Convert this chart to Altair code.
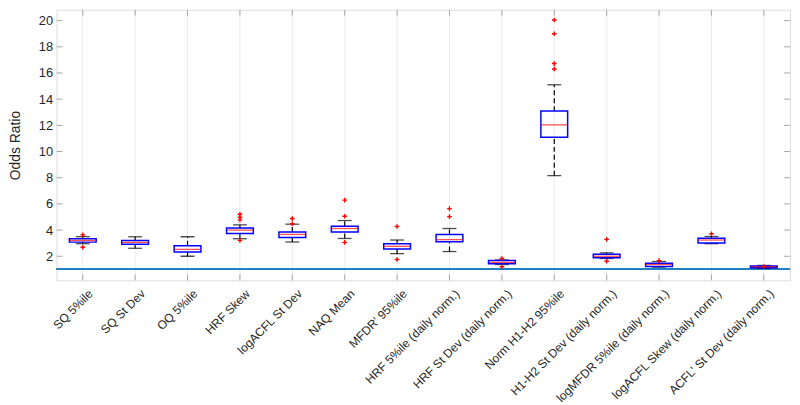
import altair as alt
import pandas as pd

categories = ["SQ 5%ile", "SQ St Dev", "OQ 5%ile", "HRF Skew", "logACFL St Dev", "NAQ Mean",
              "MFDR' 95%ile", "HRF 5%ile (daily norm.)", "HRF St Dev (daily norm.)",
              "Norm H1-H2 95%ile", "H1-H2 St Dev (daily norm.)", "logMFDR 5%ile (daily norm.)",
              "logACFL Skew (daily norm.)", "ACFL' St Dev (daily norm.)"]
q1 = [3.08, 2.91, 2.33, 3.74, 3.44, 3.85, 2.56, 3.10, 1.42, 11.09, 1.88, 1.22, 3.01, 1.12]
med = [3.21, 3.06, 2.53, 4.00, 3.67, 4.12, 2.76, 3.27, 1.53, 12.03, 2.00, 1.37, 3.24, 1.20]
q3 = [3.34, 3.21, 2.81, 4.15, 3.85, 4.30, 2.96, 3.67, 1.67, 13.09, 2.16, 1.47, 3.38, 1.26]
wlo = [2.96, 2.61, 2.00, 3.34, 3.09, 3.36, 2.20, 2.36, 1.37, 8.16, 1.83, 1.17, 2.96, 1.08]
whi = [3.50, 3.49, 3.49, 4.40, 4.45, 4.73, 3.24, 4.12, 1.72, 15.10, 2.26, 1.60, 3.51, 1.30]
outliers = [[3.63, 2.69], [], [], [5.21, 4.98, 4.78, 3.21], [4.88, 4.48], [6.29, 5.06, 3.06],
            [4.27, 1.75], [5.64, 5.03], [1.83, 1.20], [20.05, 19.0, 16.72, 16.31],
            [3.29, 1.62], [1.67], [3.72], [1.22]]
y_ticks = [2, 4, 6, 8, 10, 12, 14, 16, 18, 20]
ref_value = 1

W, H = 740, 273
FONT = "Liberation Sans"
GRAY = "#a6a6a6"

df = pd.DataFrame({"cat": categories, "q1": q1, "med": med, "q3": q3, "wlo": wlo, "whi": whi})
out_df = pd.DataFrame([{"cat": c, "v": v} for c, vs in zip(categories, outliers) for v in vs])
yt_df = pd.DataFrame({"v": y_ticks})

yscale = alt.Scale(domain=[0.16, 20.83], nice=False, zero=False)
yaxis = alt.Axis(values=y_ticks, title="Odds Ratio", titleFont=FONT, titleFontSize=14,
                 titleFontWeight="normal", titleColor="#262626", titlePadding=16,
                 labelFont=FONT, labelFontSize=13, labelColor="#262626", labelPadding=4,
                 ticks=False, domain=False, grid=False)
xaxis = alt.Axis(title=None, labelAngle=-45, labelAlign="right", labelBaseline="middle",
                 labelFont=FONT, labelFontSize=12.1, labelColor="#262626", labelPadding=11,
                 labelOffset=8, ticks=False, domain=False, grid=False, labelLimit=300)
xenc = alt.X("cat:N", sort=categories,
             scale=alt.Scale(type="band", paddingInner=0, paddingOuter=0), axis=xaxis)


def Y(field):
    return alt.Y(field, type="quantitative", scale=yscale, axis=yaxis)


base = alt.Chart(df)

grid = base.mark_rule(color="#ececec", strokeWidth=1).encode(x=xenc)
refline = base.mark_rule(color="#1f7fbf", strokeWidth=1.4).encode(
    y=alt.Y(datum=ref_value, type="quantitative", scale=yscale, axis=yaxis))
wh_up = base.mark_rule(color="black", strokeWidth=1.2, strokeDash=[5, 3]).encode(
    x=xenc, y=Y("q3"), y2="whi")
wh_lo = base.mark_rule(color="black", strokeWidth=1.2, strokeDash=[5, 3]).encode(
    x=xenc, y=Y("wlo"), y2="q1")
cap_up = base.mark_tick(color="black", size=14, thickness=1.3, orient="horizontal").encode(
    x=xenc, y=Y("whi"))
cap_lo = base.mark_tick(color="black", size=14, thickness=1.3, orient="horizontal").encode(
    x=xenc, y=Y("wlo"))
box = base.mark_bar(size=27, fill="white", fillOpacity=0, stroke="#0000ff", strokeWidth=1.5).encode(
    x=xenc, y=Y("q1"), y2="q3")
median = base.mark_tick(color="#ff0000", size=26, thickness=1.3, orient="horizontal").encode(
    x=xenc, y=Y("med"))
outl = alt.Chart(out_df).mark_point(shape="M-1,0L1,0M0,-1L0,1", size=22, filled=False,
                                    color="#ff0000", strokeWidth=1.4, opacity=1).encode(
    x=xenc, y=Y("v"))

ytl = alt.Chart(yt_df).mark_rule(color=GRAY).encode(y=Y("v"), x=alt.value(0), x2=alt.value(6))
ytr = alt.Chart(yt_df).mark_rule(color=GRAY).encode(y=Y("v"), x=alt.value(W - 6), x2=alt.value(W))
xtb = base.mark_rule(color=GRAY).encode(x=xenc, y=alt.value(H), y2=alt.value(H - 6))
xtt = base.mark_rule(color=GRAY).encode(x=xenc, y=alt.value(0), y2=alt.value(6))

chart = alt.layer(grid, refline, wh_up, wh_lo, cap_up, cap_lo, box, median, outl,
                  ytl, ytr, xtb, xtt).properties(
    width=W, height=H,
    autosize=alt.AutoSizeParams(type="none"),
    padding={"left": 49, "top": 0, "right": 2, "bottom": 126},
).configure_view(stroke=GRAY, strokeWidth=1).configure(background="white")

chart.save("out.html", embed_options={"renderer": "svg", "actions": False})
